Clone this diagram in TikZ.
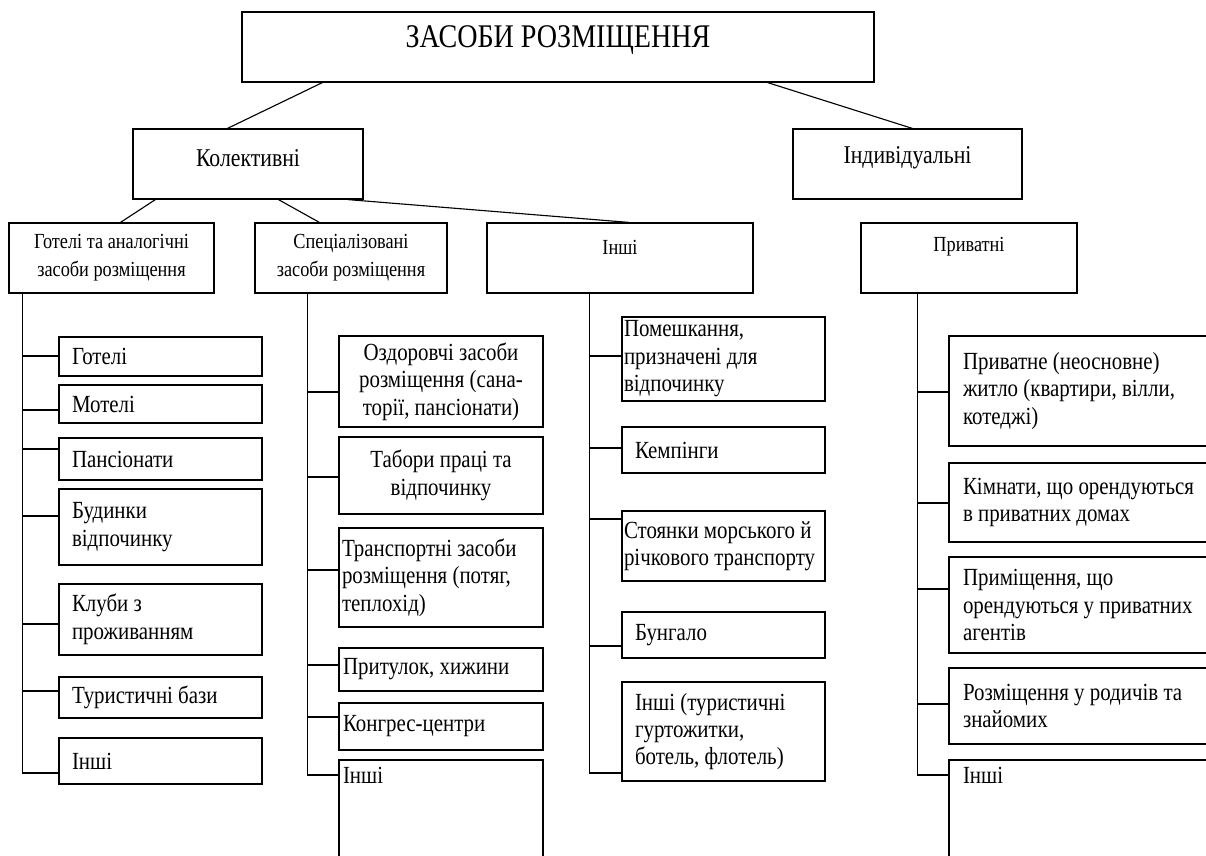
\documentclass[tikz,border=0pt]{standalone}
\usepackage{fontspec}
\setmainfont[FakeStretch=0.85]{Liberation Serif}
\def\px{0.025cm}
% box with text set from the left edge
\newcommand\bx[8][]{%
\node[box, minimum width={(#5-#3)*\px}, minimum height={(#6-#4)*\px}] (#2) at ({(#3+#5)/2},{(#4+#6)/2}) {};
\node[txt, anchor=west, #1] (#2t) at ([xshift=#7*\px]#2.west) {#8};}
% box with centred text
\newcommand\cbx[7][]{%
\node[box, minimum width={(#5-#3)*\px}, minimum height={(#6-#4)*\px}] (#2) at ({(#3+#5)/2},{(#4+#6)/2}) {};
\node[txt, align=center, #1] (#2t) at (#2.center) {#7};}

\begin{document}
\begin{tikzpicture}[x=\px,y=-\px,line width=0.8pt,
box/.style={draw, rectangle, inner sep=0pt},
txt/.style={inner sep=0pt, align=left, font=\fontsize{17.5}{19.5}\selectfont},
big/.style={font=\fontsize{23.5}{26}\selectfont},
mid/.style={font=\fontsize{18.2}{20}\selectfont},
sub/.style={font=\fontsize{15.3}{20}\selectfont}
]
\useasboundingbox (0,0) rectangle (1206,856);

\cbx[big, yshift=7*\px]{top}{242}{12}{874}{82}{ЗАСОБИ РОЗМІЩЕННЯ}
\cbx[mid, yshift=6*\px]{kol}{133}{129}{363}{199}{Колективні}
\cbx[mid, yshift=6*\px]{ind}{793}{129}{1022}{199}{Індивідуальні}
\draw ([xshift=81*\px]top.south west) -- ([xshift=95*\px]kol.north west);
\draw ([xshift=-107*\px]top.south east) -- ([xshift=120*\px]ind.north west);

\cbx[sub]{hot}{9}{223}{214}{293}{Готелі та аналогічні\\засоби розміщення}
\cbx[sub]{spec}{255}{223}{447}{293}{Спеціалізовані\\засоби розміщення}
\cbx[sub, yshift=11*\px]{insh}{487}{223}{753}{293}{Інші}
\cbx[sub, yshift=11*\px]{pryv}{861}{223}{1077}{293}{Приватні}
\draw ([xshift=23*\px]kol.south west) -- ([xshift=112*\px]hot.north west);
\draw ([xshift=146*\px]kol.south west) -- ([xshift=65*\px]spec.north west);
\draw ([xshift=-16*\px]kol.south east) -- ([xshift=143*\px]insh.north west);

% hotels
\bx{h1}{59}{337}{262}{376}{13}{Готелі}
\bx{h2}{59}{385}{262}{423}{13}{Мотелі}
\bx{h3}{59}{438}{262}{480}{13}{Пансіонати}
\bx{h4}{59}{489}{262}{565}{13}{Будинки\\відпочинку}
\bx{h5}{59}{584}{262}{655}{13}{Клуби з\\проживанням}
\bx{h6}{59}{677}{262}{718}{13}{Туристичні бази}
\bx{h7}{59}{738}{262}{784}{13}{Інші}
\path (hot.south west) ++(14,0) coordinate (t1);
\draw (t1) -- (t1 |- 0,773);
\foreach \n/\y in {h1/356,h2/410,h3/449,h4/516,h5/624,h6/691,h7/773}
  \draw (t1 |- 0,\y) -- (\n.west |- 0,\y);

% special
\cbx{s1}{339}{336}{543}{427}{Оздоровчі засоби\\розміщення (сана-\\торії, пансіонати)}
\cbx{s2}{339}{437}{543}{514}{Табори праці та\\відпочинку}
\bx{s3}{339}{528}{543}{627}{3}{Транспортні засоби\\розміщення (потяг,\\теплохід)}
\bx{s4}{339}{648}{543}{691}{4}{Притулок, хижини}
\bx{s5}{339}{703}{543}{750}{4}{Конгрес-центри}
\bx[yshift=40*\px]{s6}{339}{760}{543}{870}{4}{Інші}
\path (spec.south west) ++(53,0) coordinate (t2);
\draw (t2) -- (t2 |- 0,775);
\foreach \n/\y in {s1/392,s2/477,s3/570,s4/665,s5/717,s6/775}
  \draw (t2 |- 0,\y) -- (\n.west |- 0,\y);

% others
\bx{p1}{622}{317}{825}{401}{2}{Помешкання,\\призначені для\\відпочинку}
\bx{p2}{622}{427}{825}{473}{13}{Кемпінги}
\bx{p3}{622}{511}{825}{581}{2}{Стоянки морського й\\річкового транспорту}
\bx{p4}{622}{612}{825}{658}{13}{Бунгало}
\bx{p5}{622}{682}{825}{781}{13}{Інші (туристичні\\гуртожитки,\\ботель, флотель)}
\path (insh.south west) ++(103,0) coordinate (t3);
\draw (t3) -- (t3 |- 0,773);
\foreach \n/\y in {p1/356,p2/448,p3/519,p4/646,p5/773}
  \draw (t3 |- 0,\y) -- (\n.west |- 0,\y);

% private
\bx{q1}{949}{336}{1215}{446}{14}{Приватне (неосновне)\\житло (квартири, вілли,\\котеджі)}
\bx{q2}{949}{463}{1215}{542}{14}{Кімнати, що орендуються\\в приватних домах}
\bx{q3}{949}{557}{1215}{653}{14}{Приміщення, що\\орендуються у приватних\\агентів}
\bx{q4}{949}{668}{1215}{744}{14}{Розміщення у родичів та\\знайомих}
\bx[yshift=40*\px]{q5}{949}{760}{1215}{870}{14}{Інші}
\path (pryv.south west) ++(57,0) coordinate (t4);
\draw (t4) -- (t4 |- 0,775);
\foreach \n/\y in {q1/392,q2/503,q3/589,q4/704,q5/775}
  \draw (t4 |- 0,\y) -- (\n.west |- 0,\y);
\end{tikzpicture}
\end{document}
